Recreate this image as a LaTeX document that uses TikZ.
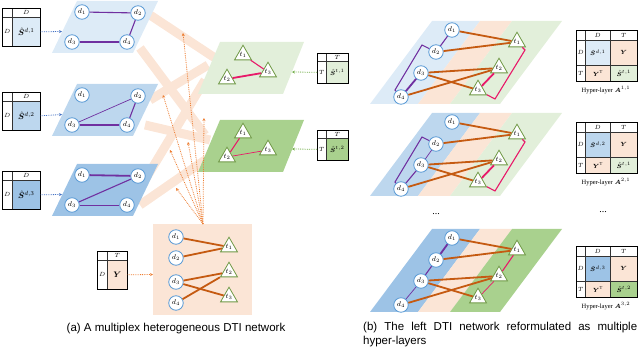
\documentclass[tikz,border=0pt]{standalone}
\usepackage{fontspec}
\usepackage{bm}
\setmainfont{Liberation Serif}
\newfontfamily\capfont{Liberation Sans}
\usetikzlibrary{positioning, shapes.geometric, arrows.meta}
\definecolor{drugA}{RGB}{221,235,247}
\definecolor{drugB}{RGB}{189,215,238}
\definecolor{drugC}{RGB}{157,195,230}
\definecolor{tarA}{RGB}{226,239,218}
\definecolor{tarB}{RGB}{169,209,142}
\definecolor{peach}{RGB}{251,229,214}
\definecolor{drugline}{RGB}{91,155,213}
\definecolor{tarline}{RGB}{112,153,70}
\definecolor{linkorange}{RGB}{197,90,17}
\definecolor{fanorange}{RGB}{237,125,49}
\definecolor{ddpurple}{RGB}{112,48,160}
\definecolor{ttpink}{RGB}{232,25,105}
\definecolor{blueptr}{RGB}{68,114,196}
\definecolor{greenptr}{RGB}{112,173,71}
\newcommand{\mcell}[7]{\node[mcell, fill=#6, minimum width=#4pt, minimum height=#5pt, anchor=north west] (#1) at (#2,#3) {#7};}
\newcommand{\bigtext}{\fontsize{8}{9}\selectfont}
\tikzset{
  dnode/.style={circle, draw=drugline, fill=white, line width=0.8pt, minimum size=14.5pt, inner sep=0pt, font=\fontsize{7}{8}\selectfont},
  tnode/.style={regular polygon, regular polygon sides=3, draw=tarline, fill=white, line width=0.8pt, minimum size=19pt, inner sep=0pt, font=\fontsize{7}{8}\selectfont},
  mcell/.style={draw=black!80, line width=0.6pt, inner sep=0pt, font=\fontsize{6.5}{7}\selectfont},
  thinlink/.style={line width=0.7pt},
  midlink/.style={line width=1.1pt},
  thicklink/.style={line width=1.8pt},
  dd/.style={ddpurple},
  tt/.style={ttpink},
  dt/.style={linkorange, line width=1.8pt},
  feed/.style={densely dotted, line width=0.8pt, -{Stealth[length=3pt,width=3pt]}},
  band/.style={peach, line width=9pt},
}
\begin{document}
\begin{tikzpicture}[x=1pt, y=-1pt]
  \useasboundingbox (0,0) rectangle (640,347);

  % Links between layers (background)
  \draw[band] (150,15) -- (215,58);
  \draw[band] (140,48) -- (205,135);
  \draw[band] (150,100) -- (208,65);
  \draw[band] (145,125) -- (210,140);
  \draw[band] (145,180) -- (205,80);
  \draw[band] (140,205) -- (205,160);

  % Drug layers
  \foreach \k/\top/\col in {1/1/drugA, 2/84/drugB, 3/164/drugC} {
    \fill[\col] (77,\top) -- (158,\top) -- (133,\top+52) -- (52,\top+52) -- cycle;
    \node[dnode] (L\k-d1) at (82,\top+11) {$d_1$};
    \node[dnode] (L\k-d2) at (138,\top+12) {$d_2$};
    \node[dnode] (L\k-d3) at (72,\top+41) {$d_3$};
    \node[dnode] (L\k-d4) at (127,\top+41) {$d_4$};
    \coordinate (L\k-in) at (62,\top+30.5);
  }
  \draw[dd, midlink] (L1-d1) -- (L1-d2);
  \draw[dd, thicklink] (L1-d3) -- (L1-d4);
  \draw[dd, midlink] (L1-d2) -- (L1-d4);
  \draw[dd, thinlink] (L2-d3) -- (L2-d2);
  \draw[dd, midlink] (L2-d3) -- (L2-d4);
  \draw[dd, midlink] (L2-d2) -- (L2-d4);
  \draw[dd, thicklink] (L3-d1) -- (L3-d2);
  \draw[dd, midlink] (L3-d3) -- (L3-d2);
  \draw[dd, thinlink] (L3-d3) -- (L3-d4);

  % Drug similarity matrices
  \foreach \k/\y/\col in {1/8/drugA, 2/92/drugB, 3/171/drugC} {
    \mcell{Sd\k-c}{2}{\y}{10}{9}{white}{}
    \mcell{Sd\k-h}{12}{\y}{28}{9}{white}{$D$}
    \mcell{Sd\k-r}{2}{\y+9}{10}{29}{white}{$D$}
    \mcell{Sd\k}{12}{\y+9}{28}{29}{\col}{\bigtext$\hat{\bm S}^{d,\k}$}
    \draw[line width=0.9pt] (Sd\k-c.north west) rectangle (Sd\k.south east);
    \draw[feed, blueptr] (Sd\k.east) -- (L\k-in);
  }

  % Target layers
  \foreach \k/\top/\col in {1/42/tarA, 2/120/tarB} {
    \fill[\col] (220,\top) -- (304,\top) -- (283,\top+52) -- (198,\top+52) -- cycle;
    \node[tnode] (T\k-t1) at (243,\top+13) {$t_1$};
    \node[tnode] (T\k-t2) at (227,\top+37) {$t_2$};
    \node[tnode] (T\k-t3) at (268,\top+30) {$t_3$};
  }
  \draw[tt, midlink] (T1-t1) -- (T1-t3);
  \draw[tt, thicklink] (T1-t2) -- (T1-t3);
  \draw[tt, midlink] (T2-t1) -- (T2-t2);
  \draw[tt, thinlink] (T2-t2) -- (T2-t3);

  % Target similarity matrices
  \foreach \k/\y/\col in {1/53/tarA, 2/130/tarB} {
    \mcell{St\k-c}{317}{\y}{9}{8}{white}{}
    \mcell{St\k-h}{326}{\y}{22}{8}{white}{$T$}
    \mcell{St\k-r}{317}{\y+8}{9}{22}{white}{$T$}
    \mcell{St\k}{326}{\y+8}{22}{22}{\col}{$\hat{\bm S}^{t,\k}$}
    \draw[line width=0.9pt] (St\k-c.north west) rectangle (St\k.south east);
    \coordinate (T\k-in) at (292,\y+19);
    \draw[feed, greenptr] (St\k-r.west) -- (T\k-in);
  }

  % Bipartite DTI layer
  \fill[peach] (153,224) rectangle (252,315);
  \foreach \i/\y in {1/237, 2/258, 3/282, 4/303}
    \node[dnode] (B-d\i) at (176,\y) {$d_\i$};
  \foreach \i/\y in {1/247, 2/272, 3/297}
    \node[tnode] (B-t\i) at (229,\y) {$t_\i$};
  \foreach \a/\b in {d1/t1, d2/t1, d3/t2, d3/t3, d4/t2}
    \draw[dt] (B-\a) -- (B-\b);

  % Interaction matrix
  \mcell{Y-c}{97}{251}{10}{9}{white}{}
  \mcell{Y-h}{107}{251}{20}{9}{white}{$T$}
  \mcell{Y-r}{97}{260}{10}{29}{white}{$D$}
  \mcell{Ycell}{107}{260}{20}{29}{peach}{\bigtext$\bm Y$}
  \draw[line width=0.9pt] (Y-c.north west) rectangle (Ycell.south east);
  \coordinate (B-in) at (153,274.5);
  \draw[feed, fanorange] (Ycell.east) -- (B-in);

  % Fan of arrows up to the layers
  \coordinate (fan) at (203,224);
  \foreach \x/\y [count=\i] in {183/33, 163/95, 170/150, 176/188, 188/142, 204/118} {
    \coordinate (up\i) at (\x,\y);
    \draw[feed, fanorange] (fan) -- (up\i);
  }

  % Hyper-layers
  \foreach \k/\top/\dcol/\tcol in {1/21/drugA/tarA, 2/113/drugB/tarA, 3/229/drugC/tarB} {
    \fill[\dcol] (432,\top) -- (480,\top) -- (418,\top+83) -- (370,\top+83) -- cycle;
    \fill[peach] (480,\top) -- (512,\top) -- (450,\top+83) -- (418,\top+83) -- cycle;
    \fill[\tcol] (512,\top) -- (562,\top) -- (500,\top+83) -- (450,\top+83) -- cycle;
    \node[dnode] (H\k-d1) at (452,\top+9) {$d_1$};
    \node[dnode] (H\k-d2) at (436,\top+31) {$d_2$};
    \node[dnode] (H\k-d3) at (421,\top+52) {$d_3$};
    \node[dnode] (H\k-d4) at (401,\top+76) {$d_4$};
    \node[tnode] (H\k-t1) at (517,\top+21) {$t_1$};
    \node[tnode] (H\k-t2) at (499,\top+47) {$t_2$};
    \node[tnode] (H\k-t3) at (478,\top+69) {$t_3$};
    \foreach \a/\b in {d1/t1, d2/t1, d3/t2, d3/t3, d4/t2}
      \draw[dt] (H\k-\a) -- (H\k-\b);
  }
  \draw[dd, midlink] (H1-d1) -- (H1-d2);
  \draw[dd, thicklink] (H1-d3) -- (H1-d4);
  \draw[dd, midlink] (H1-d2) -- (422,45) -- (395,90) -- (H1-d4);
  \draw[tt, thicklink] (H1-t2) -- (H1-t3);
  \draw[tt, midlink] (H1-t1) -- (525,50) -- (495,99) -- (H1-t3);
  \draw[dd, thinlink] (H2-d2) -- (H2-d3);
  \draw[dd, midlink] (H2-d3) -- (H2-d4);
  \draw[dd, midlink] (H2-d2) -- (422,137) -- (395,182) -- (H2-d4);
  \draw[tt, thicklink] (H2-t2) -- (H2-t3);
  \draw[tt, midlink] (H2-t1) -- (525,142) -- (495,191) -- (H2-t3);
  \draw[dd, thicklink] (H3-d1) -- (H3-d2);
  \draw[dd, midlink] (H3-d2) -- (H3-d3);
  \draw[dd, thinlink] (H3-d3) -- (H3-d4);
  \draw[tt, midlink] (H3-t1) -- (H3-t2);
  \draw[tt, thinlink] (H3-t2) -- (H3-t3);

  % Hyper-layer matrices
  \foreach \k/\top/\dcol/\tcol/\dk/\tk in {1/30/drugA/tarA/1/1, 2/122/drugB/tarA/2/1, 3/246/drugC/tarB/3/2} {
    \mcell{M\k-c}{576}{\top}{9}{10}{white}{}
    \mcell{M\k-hd}{585}{\top}{25}{10}{white}{$D$}
    \mcell{M\k-ht}{610}{\top}{27}{10}{white}{$T$}
    \mcell{M\k-rd}{576}{\top+10}{9}{25}{white}{$D$}
    \mcell{M\k-dd}{585}{\top+10}{25}{25}{\dcol}{$\hat{\bm S}^{d,\dk}$}
    \mcell{M\k-dt}{610}{\top+10}{27}{25}{peach}{$\bm Y$}
    \mcell{M\k-rt}{576}{\top+35}{9}{16}{white}{$T$}
    \mcell{M\k-td}{585}{\top+35}{25}{16}{peach}{$\bm Y^{\mathrm T}$}
    \mcell{M\k-tt}{610}{\top+35}{27}{16}{\tcol}{$\hat{\bm S}^{t,\tk}$}
    \draw[line width=0.9pt] (M\k-c.north west) rectangle (M\k-tt.south east);
    \node[font=\fontsize{6.5}{7}\selectfont] (M\k-lab) at (606,\top+60) {Hyper-layer $\bm A^{\dk,\tk}$};
  }
  \node (dotsL) at (436,214) {...};
  \node (dotsR) at (603,212) {...};

  % Captions
  \node[font=\capfont\fontsize{11.5}{14}\selectfont, anchor=base] (capA) at (176,332) {(a) A multiplex heterogeneous DTI network};
  \node[font=\capfont\fontsize{11.5}{14}\selectfont, anchor=north west, text width=274pt, align=justify, inner sep=0pt] (capB) at (363,322) {(b) The left DTI network reformulated as multiple\linebreak hyper-layers};
\end{tikzpicture}
\end{document}
